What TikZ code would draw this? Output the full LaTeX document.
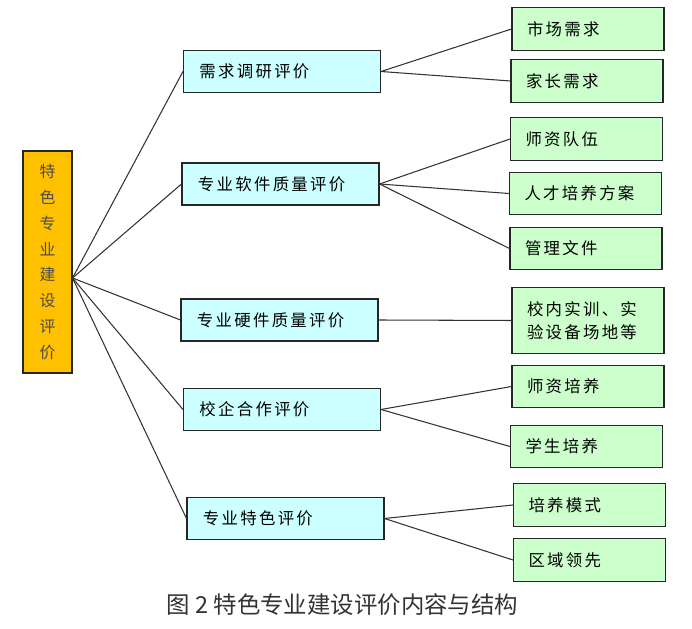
\documentclass[tikz,border=0pt]{standalone}
\usepackage{fontspec}
\setmainfont{Noto Sans CJK SC}
\newfontfamily\boxfont[LetterSpace=14]{Noto Sans CJK SC}
\usepackage{tikz}
\usetikzlibrary{positioning}
\usepackage{xcolor}
\definecolor{rootfill}{HTML}{FFC000}
\definecolor{midfill}{HTML}{CCFFFF}
\definecolor{leaffill}{HTML}{CCFFCC}

\begin{document}
\begin{tikzpicture}[x=0.03cm, y=-0.03cm,
  root/.style={draw=black!85, line width=0.9pt, fill=rootfill, minimum width=1.47cm, minimum height=6.66cm, align=center, text=black!70, font=\fontsize{13.5}{22}\selectfont},
  mid/.style={draw=black!85, line width=0.9pt, fill=midfill, minimum height=1.26cm, text width=4.95cm, inner xsep=0.48cm, align=left, font=\boxfont\fontsize{14}{17}\selectfont},
  leaf/.style={draw=black!85, line width=0.9pt, fill=leaffill, minimum height=1.28cm, text width=3.66cm, inner xsep=0.45cm, align=left, font=\boxfont\fontsize{14}{20}\selectfont},
  link/.style={draw=black!80, line width=0.9pt}
]
  \useasboundingbox (0,0) rectangle (692,629);

  \node[root] (root) at (47.5,262) {特\\色\\专\\业\\建\\设\\评\\价};
  \coordinate (hub) at ([yshift=-0.48cm]root.east);

  \node[mid] (demand) at (282,71.5) {需求调研评价};
  \node[mid] (soft) at (280.5,184) {专业软件质量评价};
  \node[mid] (hard) at (279.5,320) {专业硬件质量评价};
  \node[mid] (coop) at (282,409.5) {校企合作评价};
  \node[mid] (feature) at (285.5,518.5) {专业特色评价};

  \node[leaf] (market) at (588,29) {市场需求};
  \node[leaf] (parent) at (587,81) {家长需求};
  \node[leaf] (teacher) at (586.5,139) {师资队伍};
  \node[leaf] (talent) at (585.5,193.5) {人才培养方案};
  \node[leaf] (manage) at (586,248.5) {管理文件};
  \node[leaf, minimum height=2.0cm] (lab) at (588,320.5) {校内实训、实\\验设备场地等};
  \node[leaf] (tdev) at (588,386.5) {师资培养};
  \node[leaf] (sdev) at (586.5,446.5) {学生培养};
  \node[leaf] (mode) at (589.5,505) {培养模式};
  \node[leaf] (region) at (589.5,560) {区域领先};

  \node[text=black!80, font=\fontsize{20}{22}\selectfont] (caption) at (342.5,605) {图 2 特色专业建设评价内容与结构};

  % root to second level
  \foreach \n in {demand,soft,hard,coop,feature}
    \draw[link] (hub) -- (\n.west);

  % second level to leaves
  \draw[link] (demand.east) -- (market.west);
  \draw[link] (demand.east) -- (parent.west);
  \draw[link] (soft.east) -- (teacher.west);
  \draw[link] (soft.east) -- (talent.west);
  \draw[link] (soft.east) -- (manage.west);
  \draw[link] (hard.east) -- (lab.west);
  \draw[link] (coop.east) -- (tdev.west);
  \draw[link] (coop.east) -- (sdev.west);
  \draw[link] (feature.east) -- (mode.west);
  \draw[link] (feature.east) -- (region.west);
\end{tikzpicture}
\end{document}
